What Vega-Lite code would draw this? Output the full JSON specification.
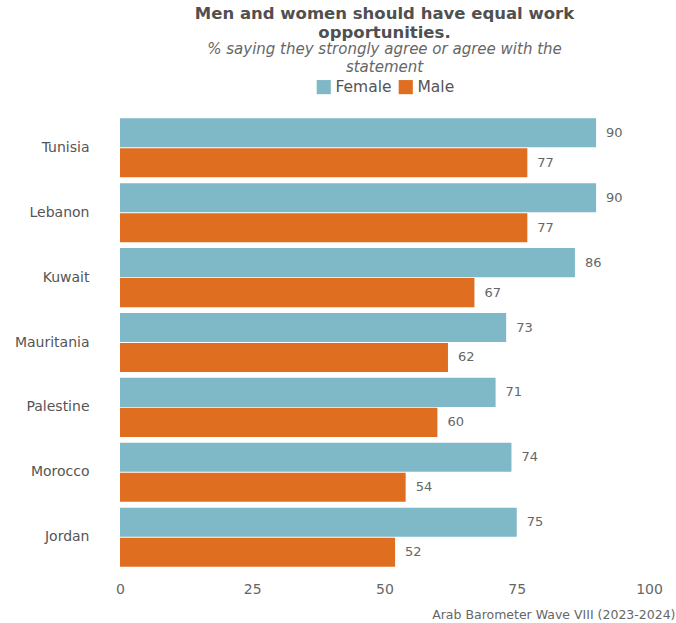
{
  "$schema": "https://vega.github.io/schema/vega-lite/v6.json",
  "width": 529,
  "height": 455,
  "autosize": {"type": "none"},
  "padding": {"left": 120, "top": 115, "right": 27, "bottom": 54},
  "background": "white",
  "config": {
    "font": "DejaVu Sans",
    "view": {"stroke": null},
    "axis": {"grid": false, "domain": false, "ticks": false}
  },
  "title": {
    "text": ["Men and women should have equal work", "opportunities."],
    "subtitle": ["% saying they strongly agree or agree with the", "statement"],
    "anchor": "middle",
    "frame": "group",
    "fontSize": 16.5,
    "fontWeight": "bold",
    "color": "#505050",
    "lineHeight": 19,
    "subtitleFontSize": 15,
    "subtitleFontStyle": "italic",
    "subtitleColor": "#666666",
    "subtitleLineHeight": 18,
    "subtitlePadding": 1,
    "offset": 4
  },
  "data": {
    "values": [
      {"country": "Tunisia", "sex": "Female", "value": 90},
      {"country": "Tunisia", "sex": "Male", "value": 77},
      {"country": "Lebanon", "sex": "Female", "value": 90},
      {"country": "Lebanon", "sex": "Male", "value": 77},
      {"country": "Kuwait", "sex": "Female", "value": 86},
      {"country": "Kuwait", "sex": "Male", "value": 67},
      {"country": "Mauritania", "sex": "Female", "value": 73},
      {"country": "Mauritania", "sex": "Male", "value": 62},
      {"country": "Palestine", "sex": "Female", "value": 71},
      {"country": "Palestine", "sex": "Male", "value": 60},
      {"country": "Morocco", "sex": "Female", "value": 74},
      {"country": "Morocco", "sex": "Male", "value": 54},
      {"country": "Jordan", "sex": "Female", "value": 75},
      {"country": "Jordan", "sex": "Male", "value": 52}
    ]
  },
  "encoding": {
    "y": {
      "field": "country",
      "type": "nominal",
      "sort": ["Tunisia", "Lebanon", "Kuwait", "Mauritania", "Palestine", "Morocco", "Jordan"],
      "scale": {"paddingInner": 0.09, "paddingOuter": 0.05},
      "axis": {"title": null, "labelFontSize": 14, "labelColor": "#555555", "labelPadding": 31}
    },
    "yOffset": {
      "field": "sex",
      "type": "nominal",
      "sort": ["Female", "Male"],
      "scale": {"paddingInner": 0.03}
    },
    "x": {
      "field": "value",
      "type": "quantitative",
      "scale": {"domain": [0, 100]},
      "axis": {
        "values": [0, 25, 50, 75, 100],
        "labelFlush": false,
        "labelFontSize": 14,
        "labelColor": "#666666",
        "labelPadding": 12,
        "title": "Arab Barometer Wave VIII (2023-2024)",
        "titleFontSize": 12.5,
        "titleFontWeight": "normal",
        "titleColor": "#666666",
        "titleAnchor": "end",
        "titleAlign": "right",
        "titleX": 555,
        "titleY": 48,
        "titleBaseline": "alphabetic"
      }
    }
  },
  "layer": [
    {
      "mark": {"type": "bar"},
      "encoding": {
        "color": {
          "field": "sex",
          "type": "nominal",
          "scale": {"domain": ["Female", "Male"], "range": ["#7FB9C7", "#DF6E21"]},
          "legend": {
            "title": null,
            "orient": "none",
            "legendX": 196,
            "legendY": -36,
            "direction": "horizontal",
            "symbolType": "square",
            "symbolSize": 200,
            "symbolStrokeWidth": 0,
            "labelFontSize": 15.5,
            "labelColor": "#555555",
            "columnPadding": 6,
            "labelOffset": 4
          }
        }
      }
    },
    {
      "mark": {"type": "text", "align": "left", "dx": 10, "fontSize": 13, "color": "#666666"},
      "encoding": {"text": {"field": "value", "type": "quantitative"}}
    }
  ]
}
